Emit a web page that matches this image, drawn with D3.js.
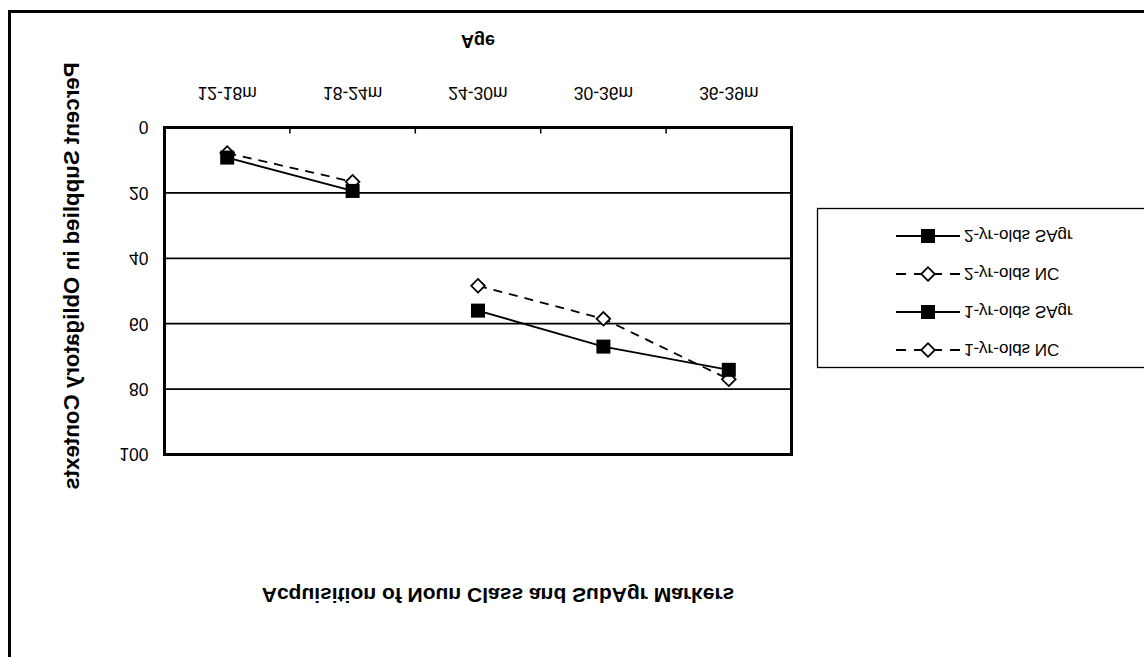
<!DOCTYPE html>
<html><head><meta charset="utf-8">
<script src="https://cdn.jsdelivr.net/npm/d3@7"></script>
<style>
html,body{margin:0;padding:0;background:#fff;}
text{font-family:"Liberation Sans",Arial,sans-serif;fill:#000;}
</style></head>
<body>
<svg id="chart" width="1144" height="657"></svg>
<script>
// ---- data ----
const categories = ["12-18m","18-24m","24-30m","30-36m","36-39m"];
const yTicks = [0,20,40,60,80,100];
const oneYrNC   = [7.8, 16.6, null, null, null];
const oneYrSAgr = [9.2, 19.4, null, null, null];
const twoYrNC   = [null, null, 48.4, 58.5, 77.0];
const twoYrSAgr = [null, null, 56.0, 67.0, 74.1];
const seriesNames = ["1-yr-olds NC","1-yr-olds SAgr","2-yr-olds NC","2-yr-olds SAgr"];
const seriesValues = [oneYrNC, oneYrSAgr, twoYrNC, twoYrSAgr];
const seriesKind = ["nc","sagr","nc","sagr"];
const chartTitle = "Acquisition of Noun Class and SubAgr Markers";
const xTitle = "Age";
const yTitle = "Percent Supplied in Obligatory Contexts";

// ---- layout (drawn upright, then mirrored vertically like the reference) ----
const W = 1144, H = 657;
const svg = d3.select("#chart");
const root = svg.append("g").attr("transform", `translate(0,${H}) scale(1,-1)`);

// outer border
root.append("rect").attr("x", 9.5).attr("y", -20).attr("width", 1200).attr("height", 665.5)
  .attr("fill", "none").attr("stroke", "#000").attr("stroke-width", 3);

const px0 = 164.5, px1 = 791.5, pyTop = 202.5, pyBot = 529.5;
const x = d3.scaleBand().domain(categories).range([px0, px1]);
const y = d3.scaleLinear().domain([0, 100]).range([pyBot, pyTop]);

// gridlines
root.append("g").selectAll("line").data(yTicks.filter(d => d > 0 && d < 100)).join("line")
  .attr("x1", px0).attr("x2", px1).attr("y1", d => y(d)).attr("y2", d => y(d))
  .attr("stroke", "#000").attr("stroke-width", 1.8);

// x axis (category labels + inside ticks at boundaries)
const xAxis = d3.axisBottom(x).tickSize(0).tickPadding(0);
const gx = root.append("g").attr("transform", `translate(0,${pyBot})`).call(xAxis);
gx.select(".domain").remove();
gx.selectAll("text").attr("font-size", 17.5).attr("font-family", "Liberation Sans, Arial, sans-serif")
  .attr("dy", null).attr("y", 41);
const bounds = categories.slice(1).map(c => x(c));
root.append("g").selectAll("line").data(bounds).join("line")
  .attr("x1", d => d).attr("x2", d => d).attr("y1", pyBot).attr("y2", pyBot - 6)
  .attr("stroke", "#000").attr("stroke-width", 1.5);

// y axis labels
const yAxis = d3.axisLeft(y).tickValues(yTicks).tickSize(0).tickPadding(16);
const gy = root.append("g").attr("transform", `translate(${px0},0)`).call(yAxis);
gy.select(".domain").remove();
gy.selectAll("text").attr("font-size", 17.5).attr("font-family", "Liberation Sans, Arial, sans-serif");

// plot frame
root.append("rect").attr("x", px0).attr("y", pyTop).attr("width", px1 - px0).attr("height", pyBot - pyTop)
  .attr("fill", "none").attr("stroke", "#000").attr("stroke-width", 3);

// series
const cx = c => x(c) + x.bandwidth() / 2;
const line = d3.line().defined(d => d.v !== null).x(d => cx(d.c)).y(d => y(d.v));
const diamond = s => `M0,${-s}L${s},0L0,${s}L${-s},0Z`;

function drawMarker(g, kind, px, py) {
  if (kind === "sagr") {
    g.append("rect").attr("x", px - 7).attr("y", py - 7).attr("width", 14).attr("height", 14)
      .attr("fill", "#000");
  } else {
    g.append("path").attr("d", diamond(6.8)).attr("transform", `translate(${px},${py})`)
      .attr("fill", "#fff").attr("stroke", "#000").attr("stroke-width", 1.8);
  }
}

seriesValues.forEach((vals, i) => {
  const kind = seriesKind[i];
  const pts = categories.map((c, j) => ({c, v: vals[j]}));
  const g = root.append("g");
  g.append("path").attr("d", line(pts)).attr("fill", "none").attr("stroke", "#000")
    .attr("stroke-width", 1.8).attr("stroke-dasharray", kind === "nc" ? "9,7" : null);
  pts.filter(d => d.v !== null).forEach(d => drawMarker(g, kind, cx(d.c), y(d.v)));
});

// titles
root.append("text").attr("x", 498).attr("y", 69).attr("text-anchor", "middle")
  .attr("font-size", 21).attr("font-weight", "bold").text(chartTitle);
root.append("text").attr("x", 478).attr("y", 622).attr("text-anchor", "middle")
  .attr("font-size", 18).attr("font-weight", "bold").text(xTitle);
root.append("text").attr("transform", `translate(78.5,${(pyTop + pyBot) / 2 + 15}) rotate(-90)`)
  .attr("text-anchor", "middle").attr("font-size", 22.3).attr("font-weight", "bold").text(yTitle);

// legend
const lg = root.append("g");
lg.append("rect").attr("x", 817.5).attr("y", 289.5).attr("width", 340).attr("height", 159)
  .attr("fill", "#fff").attr("stroke", "#000").attr("stroke-width", 1.3);
const legendY = d3.scalePoint().domain(seriesNames).range([307, 421]);
seriesNames.forEach((name, i) => {
  const kind = seriesKind[i];
  const ly = legendY(name);
  lg.append("line").attr("x1", 896).attr("x2", 960).attr("y1", ly).attr("y2", ly)
    .attr("stroke", "#000").attr("stroke-width", 1.8)
    .attr("stroke-dasharray", kind === "nc" ? "10,8" : null);
  drawMarker(lg, kind, 928, ly);
  lg.append("text").attr("x", 964).attr("y", ly).attr("dy", "0.35em")
    .attr("font-size", 17).text(name);
});
</script>
</body></html>
